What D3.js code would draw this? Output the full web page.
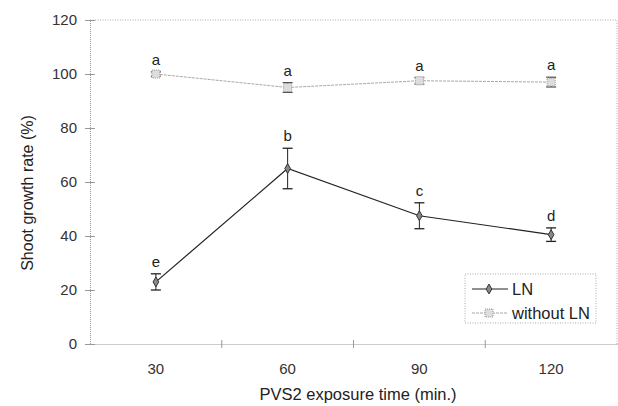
<!DOCTYPE html>
<html lang="en">
<head>
<meta charset="UTF-8">
<title>Shoot growth rate</title>
<script src="https://d3js.org/d3.v7.min.js"></script>
<style>
  body { margin: 0; background: #fff; }
  text { font-family: "Liberation Sans", Arial, sans-serif; fill: #222; }
</style>
</head>
<body>
<svg id="chart" width="618" height="406"></svg>
<script>
// data
const times = ["30", "60", "90", "120"];
const lnMean = [23, 65, 47.5, 40.5];
const lnErr = [3, 7.5, 4.8, 2.5];
const lnLetters = ["e", "b", "c", "d"];
const woMean = [100, 95, 97.5, 97];
const woErr = [0.8, 1.8, 1.2, 1.8];
const woLetters = ["a", "a", "a", "a"];
const yTicks = [0, 20, 40, 60, 80, 100, 120];

const svg = d3.select("#chart");
const margins = {top: 20, right: 1, bottom: 62, left: 90};
const width = +svg.attr("width"), height = +svg.attr("height");
const chartW = width - margins.left - margins.right;
const chartH = height - margins.top - margins.bottom;

const x = d3.scaleBand().domain(times).range([0, chartW]);
const y = d3.scaleLinear().domain([0, 120]).range([chartH, 0]);

const g = svg.append("g").attr("transform", "translate(" + margins.left + "," + margins.top + ")");

// frame: dotted top/right
g.append("path")
  .attr("d", "M0,0H" + chartW + "V" + chartH)
  .attr("fill", "none").attr("stroke", "#aaa").attr("stroke-dasharray", "1,1.5");

// y axis
const yAxis = g.append("g").call(d3.axisLeft(y).tickValues(yTicks).tickSize(5).tickPadding(8));
yAxis.select(".domain").attr("stroke", "#999").attr("stroke-dasharray", "1,1");
yAxis.selectAll(".tick line").attr("x1", -5).attr("x2", 5).attr("stroke", "#999");
yAxis.selectAll("text").attr("font-size", 15).style("fill", "#333");

// x axis
const xAxis = g.append("g").attr("transform", "translate(0," + chartH + ")")
  .call(d3.axisBottom(x).tickSize(0).tickPadding(19));
xAxis.select(".domain").attr("stroke", "#999").attr("stroke-dasharray", "1,1");
xAxis.selectAll("text").attr("font-size", 15).style("fill", "#333");
// ticks at band edges
g.append("g").selectAll("line").data(times.slice(1)).join("line")
  .attr("x1", d => x(d)).attr("x2", d => x(d))
  .attr("y1", chartH - 4).attr("y2", chartH + 4)
  .attr("stroke", "#999");

// axis titles
svg.append("text")
  .attr("x", 358).attr("y", 400)
  .attr("text-anchor", "middle").attr("font-size", 16.5)
  .text("PVS2 exposure time (min.)");
svg.append("text")
  .attr("transform", "translate(33,193) rotate(-90)")
  .attr("text-anchor", "middle").attr("font-size", 16)
  .text("Shoot growth rate (%)");

const cx = d => x(d) + x.bandwidth() / 2;
const line = d3.line().x((d, i) => cx(times[i])).y(d => y(d));

// without LN series (light gray)
g.append("path").datum(woMean).attr("d", line)
  .attr("fill", "none").attr("stroke", "#a8a8a8").attr("stroke-width", 1).attr("stroke-dasharray", "3,1");

function errorBars(means, errs, color) {
  const eb = g.append("g");
  means.forEach((m, i) => {
    const px = cx(times[i]);
    eb.append("line").attr("x1", px).attr("x2", px)
      .attr("y1", y(m + errs[i])).attr("y2", y(m - errs[i])).attr("stroke", color);
    [m + errs[i], m - errs[i]].forEach(v => {
      eb.append("line").attr("x1", px - 5).attr("x2", px + 5)
        .attr("y1", y(v)).attr("y2", y(v)).attr("stroke", color).attr("stroke-width", 1.3);
    });
  });
}
errorBars(woMean, woErr, "#555");

g.append("g").selectAll("rect").data(woMean).join("rect")
  .attr("x", (d, i) => cx(times[i]) - 4).attr("y", d => y(d) - 4)
  .attr("width", 8).attr("height", 8)
  .attr("fill", "#ddd").attr("stroke", "#999").attr("stroke-dasharray", "1,1");

// LN series
g.append("path").datum(lnMean).attr("d", line)
  .attr("fill", "none").attr("stroke", "#222").attr("stroke-width", 1.2);
errorBars(lnMean, lnErr, "#222");
g.append("g").selectAll("path.mk").data(lnMean).join("path").attr("class", "mk")
  .attr("d", d3.symbol(d3.symbolDiamond, 28))
  .attr("transform", (d, i) => "translate(" + cx(times[i]) + "," + y(d) + ")")
  .attr("fill", "#888").attr("stroke", "#333").attr("stroke-width", 1);

// letters
g.append("g").selectAll("text").data(lnMean).join("text")
  .attr("x", (d, i) => cx(times[i])).attr("y", (d, i) => y(d + lnErr[i]) - 7)
  .attr("text-anchor", "middle").attr("font-size", 15)
  .text((d, i) => lnLetters[i]);
g.append("g").selectAll("text").data(woMean).join("text")
  .attr("x", (d, i) => cx(times[i])).attr("y", (d, i) => y(d + woErr[i]) - 7)
  .attr("text-anchor", "middle").attr("font-size", 15)
  .text((d, i) => woLetters[i]);

// legend
const lg = svg.append("g").attr("transform", "translate(465,274)");
lg.append("rect").attr("width", 131).attr("height", 49)
  .attr("fill", "#fff").attr("stroke", "#aaa").attr("stroke-dasharray", "1,1.5");
lg.append("line").attr("x1", 7).attr("x2", 43).attr("y1", 15).attr("y2", 15).attr("stroke", "#222").attr("stroke-width", 1.2);
lg.append("path").attr("d", d3.symbol(d3.symbolDiamond, 28)).attr("transform", "translate(24,15)")
  .attr("fill", "#888").attr("stroke", "#333");
lg.append("text").attr("x", 47).attr("y", 21).attr("font-size", 16.5).text("LN");
lg.append("line").attr("x1", 7).attr("x2", 43).attr("y1", 39).attr("y2", 39).attr("stroke", "#a8a8a8").attr("stroke-dasharray", "3,1");
lg.append("rect").attr("x", 20).attr("y", 35).attr("width", 8).attr("height", 8)
  .attr("fill", "#ddd").attr("stroke", "#999").attr("stroke-dasharray", "1,1");
lg.append("text").attr("x", 47).attr("y", 45).attr("font-size", 16.5).text("without LN");
</script>
</body>
</html>
